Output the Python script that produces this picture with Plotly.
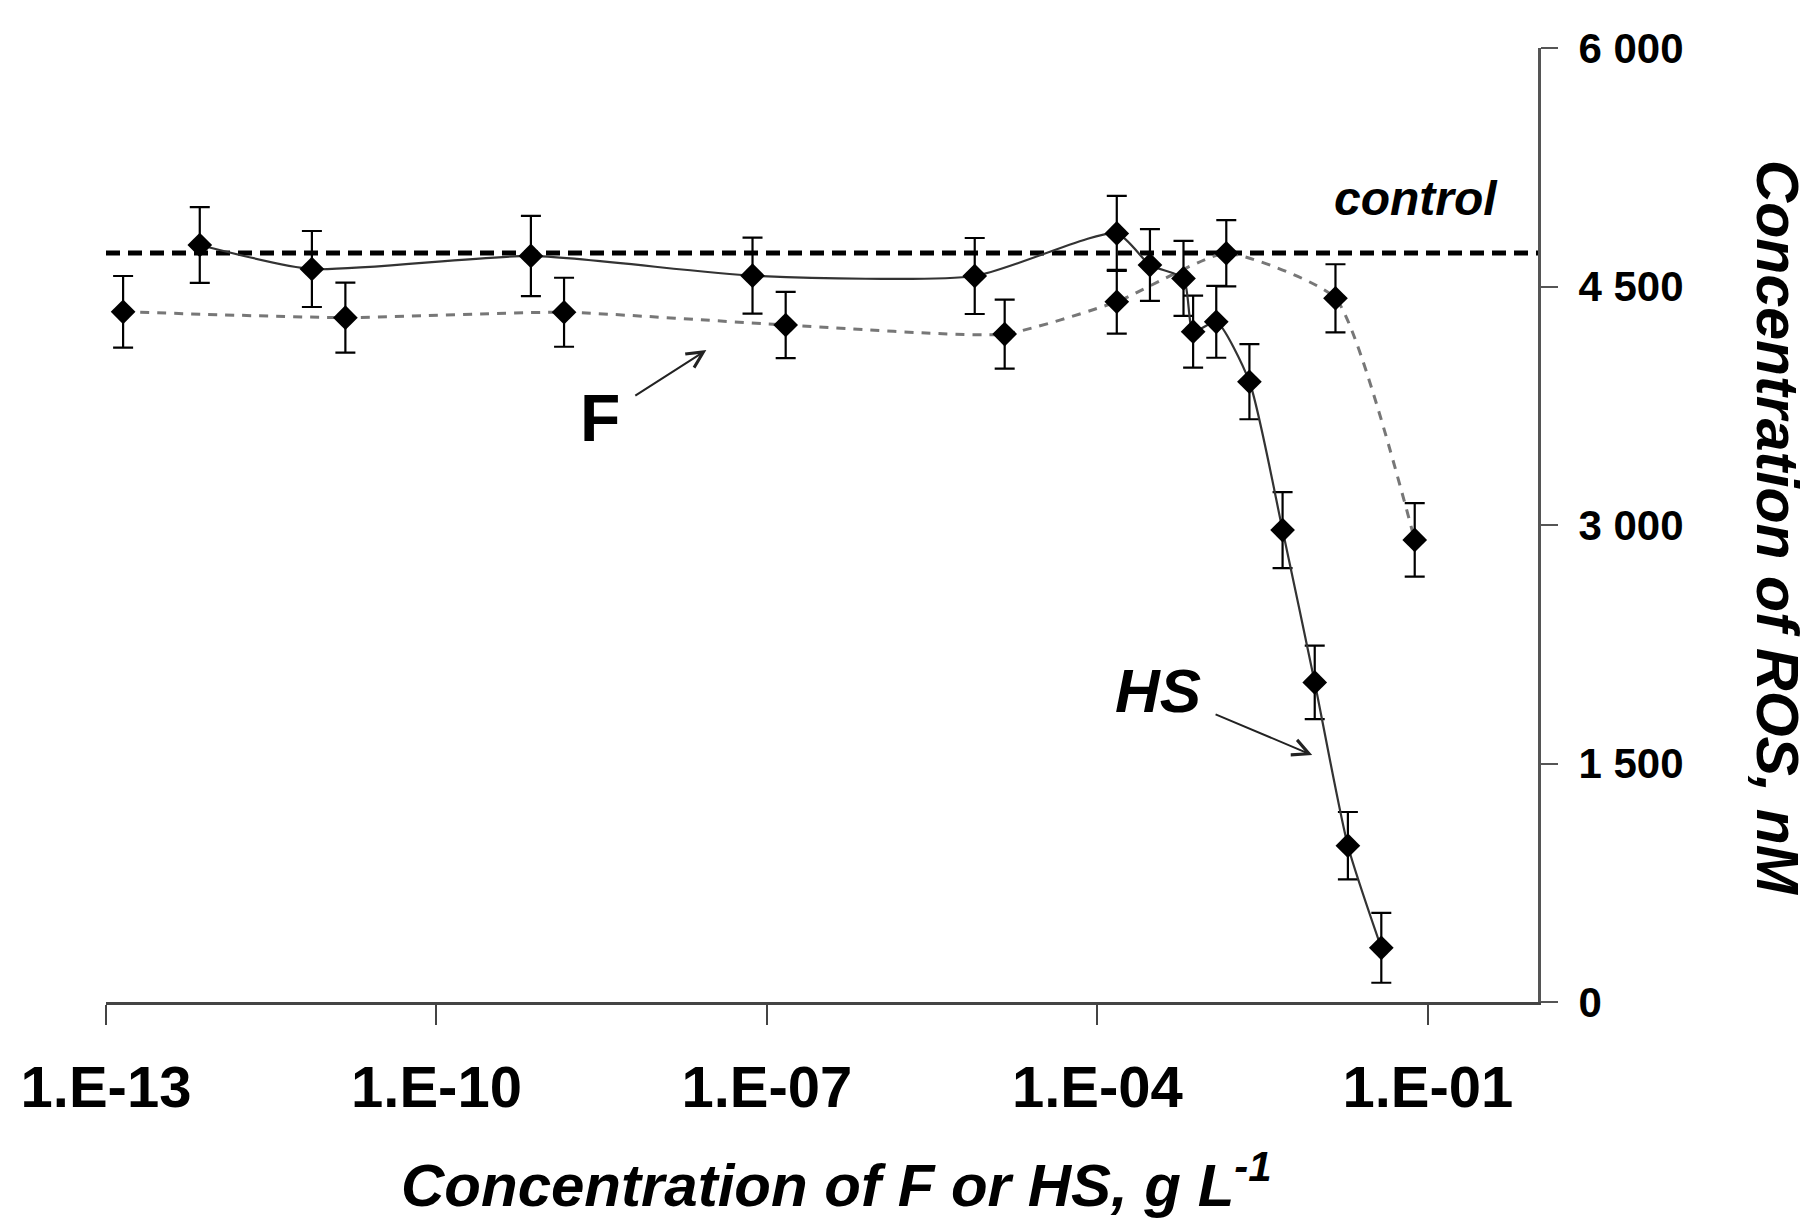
import plotly.graph_objects as go

# ---------------- data ----------------
# HS series (solid line) : concentration g/L, ROS nM, error
hs_conc = [7.1e-13, 7.4e-12, 7.2e-10, 7.4e-08, 7.7e-06, 1.5e-04, 3.0e-04,
           6.05e-04, 7.4e-04, 1.2e-03, 2.4e-03, 4.8e-03, 9.4e-03, 1.88e-02, 3.78e-02]
hs_ros = [4761, 4610, 4692, 4568, 4566, 4834, 4635,
          4551, 4216, 4278, 3901, 2968, 2010, 983, 341]
hs_err = [238, 239, 252, 239, 239, 236, 226,
          236, 226, 226, 236, 239, 231, 212, 220]

# F series (dashed line)
f_conc = [1.43e-13, 1.49e-11, 1.44e-09, 1.48e-07, 1.44e-05, 1.5e-04,
          1.48e-03, 1.45e-02, 7.6e-02]
f_ros = [4341, 4304, 4338, 4258, 4201, 4404, 4709, 4426, 2906]
f_err = [225, 220, 217, 208, 217, 201, 208, 214, 231]

# control level
control_x = [1e-13, 1.0]
control_ros = [4710, 4710]

x_tickvals = [1e-13, 1e-10, 1e-07, 1e-04, 1e-01]
x_ticktext = ["1.E-13", "1.E-10", "1.E-07", "1.E-04", "1.E-01"]
y_tickvals = [0, 1500, 3000, 4500, 6000]
y_ticktext = ["0", "1 500", "3 000", "4 500", "6 000"]

FONT = "Liberation Sans, Arial, sans-serif"

fig = go.Figure()

fig.add_trace(go.Scatter(
    x=control_x, y=control_ros, mode="lines",
    line=dict(color="black", width=5, dash="14px,8px"),
    hoverinfo="skip", showlegend=False))

fig.add_trace(go.Scatter(
    x=f_conc, y=f_ros, mode="lines+markers",
    line=dict(color="#777777", width=3, dash="9px,8px", shape="spline", smoothing=0.5),
    marker=dict(symbol="diamond", size=19, color="black"),
    error_y=dict(type="data", array=f_err, visible=True, color="black",
                 thickness=2.2, width=10),
    showlegend=False))

fig.add_trace(go.Scatter(
    x=hs_conc, y=hs_ros, mode="lines+markers",
    line=dict(color="#333333", width=2.2, shape="spline", smoothing=0.6),
    marker=dict(symbol="diamond", size=19, color="black"),
    error_y=dict(type="data", array=hs_err, visible=True, color="black",
                 thickness=2.2, width=10),
    showlegend=False))

annotations = [
    dict(text="<b><i>control</i></b>", x=-1.11, y=5056, xref="x", yref="y",
         showarrow=False, font=dict(family=FONT, size=48, color="black")),
    # "F" label with its arrow (x, y = arrow head; ax, ay = offset of the text)
    dict(text="<b>F</b>", x=-7.55, y=4100, xref="x", yref="y", showarrow=True,
         ax=-106, ay=68, arrowhead=5, arrowsize=1.6, arrowwidth=2, arrowcolor="#222",
         startstandoff=16, font=dict(family=FONT, size=66, color="black")),
    dict(text="<b><i>HS</i></b>", x=-2.05, y=1553, xref="x", yref="y", showarrow=True,
         ax=-154, ay=-65, arrowhead=5, arrowsize=1.6, arrowwidth=2, arrowcolor="#222",
         startstandoff=14, font=dict(family=FONT, size=62, color="black")),
    dict(text="<b><i>Concentration of F or HS, g L<sup>-1</sup></i></b>",
         x=0.51, y=-0.188, xref="paper", yref="paper", showarrow=False,
         xanchor="center", yanchor="middle",
         font=dict(family=FONT, size=60, color="black")),
    dict(text="<b><i>Concentration of ROS, nM</i></b>",
         x=1.167, y=0.497, xref="paper", yref="paper", showarrow=False,
         textangle=90, xanchor="center", yanchor="middle",
         font=dict(family=FONT, size=59, color="black")),
]

fig.update_layout(
    width=1812, height=1225, autosize=False,
    margin=dict(l=106, r=274, t=48, b=223),
    paper_bgcolor="white", plot_bgcolor="white",
    font=dict(family=FONT, color="black"),
    annotations=annotations,
    xaxis=dict(type="log", range=[-13, 0], tickvals=x_tickvals, ticktext=x_ticktext,
               showgrid=False, zeroline=False, showline=True, linecolor="#444",
               linewidth=3, ticks="outside", ticklen=20, tickwidth=2, tickcolor="#444",
               ticklabelstandoff=12,
               tickfont=dict(family=FONT, size=58, color="black", weight="bold")),
    yaxis=dict(range=[0, 6000], side="right", tickvals=y_tickvals, ticktext=y_ticktext,
               showgrid=False, zeroline=False, showline=True, linecolor="#555",
               linewidth=3, ticks="outside", ticklen=17, tickwidth=2, tickcolor="#555",
               ticklabelstandoff=12,
               tickfont=dict(family=FONT, size=42, color="black", weight="bold")),
)

fig.write_html("out.html", config={"displayModeBar": False},
               post_script="document.body.style.margin='0';document.body.style.overflow='hidden';")
